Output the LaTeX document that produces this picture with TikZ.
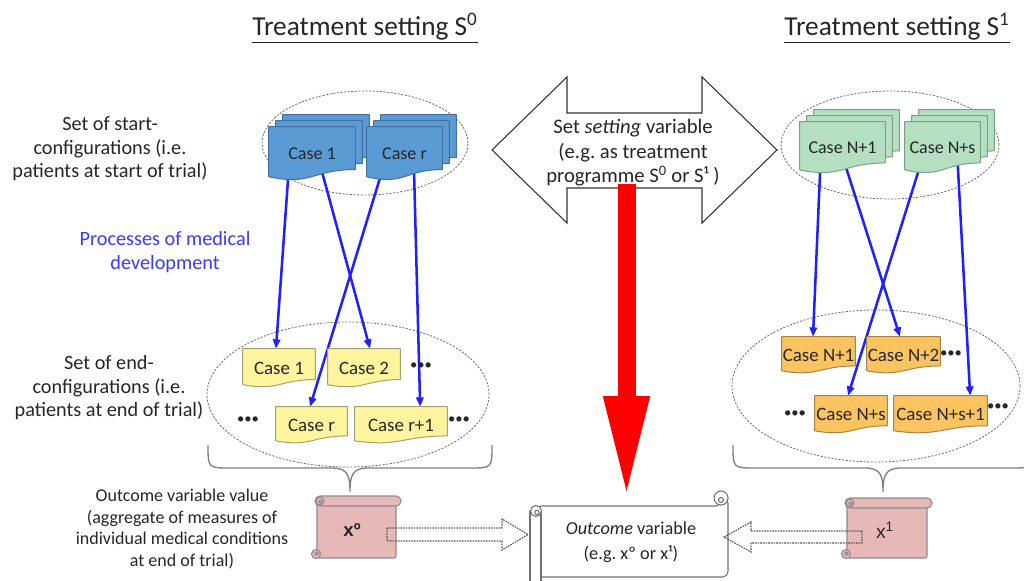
\documentclass[tikz,border=0pt]{standalone}
\usepackage{fontspec}
\setmainfont{Carlito}
\newfontfamily\arialfont{Liberation Sans}
\usetikzlibrary{calc,shapes.geometric,arrows.meta}
\frenchspacing

\pgfdeclarelayer{sets}
\pgfdeclarelayer{flows}
\pgfdeclarelayer{sheets}
\pgfsetlayers{sets,flows,sheets,main}

\definecolor{docblue}{HTML}{5B9BD5}
\definecolor{docblueedge}{HTML}{41719C}
\definecolor{docgreen}{HTML}{B5DFC1}
\definecolor{docgreenedge}{HTML}{7F9F88}
\definecolor{docyellow}{HTML}{FFF59E}
\definecolor{docyellowedge}{HTML}{A3A370}
\definecolor{docorange}{HTML}{FBC461}
\definecolor{docorangeedge}{HTML}{A88444}
\definecolor{scrollpink}{HTML}{E6B9B8}
\definecolor{scrolledge}{HTML}{8C8C8C}
\definecolor{flowblue}{HTML}{1F1FFF}
\definecolor{procblue}{HTML}{3A3AFF}
\definecolor{setgray}{HTML}{6E6E6E}
\definecolor{inkgray}{HTML}{262626}

\tikzset{
  setring/.style={ellipse, draw=setgray, dash pattern=on 1.6pt off 1.1pt, line width=0.6pt, inner sep=0pt},
  sheet/.style={rectangle, inner sep=0pt, font=\fontsize{13.5}{15}\selectfont, text=inkgray},
  endsheet/.style={sheet, font=\fontsize{14.2}{15}\selectfont},
  flow/.style={draw=flowblue, line width=1.9pt, -{Triangle[length=7pt,width=5.5pt]}},
  sidetext/.style={align=center, font=\fontsize{15.2}{17.6}\selectfont, text=inkgray},
  curlybrace/.style={draw=black!50, line width=1pt},
  hollowarrow/.style={draw=black!65, line width=0.9pt, dash pattern=on 1.2pt off 0.8pt},
  scrollline/.style={draw=scrolledge, line width=0.8pt},
  ellipsis/.style={font=\fontsize{11}{11}\selectfont, text=inkgray},
  heading/.style={font=\fontsize{20.5}{24}\selectfont, text=inkgray}
}

% document sheet with a wavy lower edge, fitted to a rectangular node
\newcommand\sheetshape[3]{%
  \filldraw[fill=#2, draw=#3, line width=0.75pt, line join=round]
    (#1.north west) -- (#1.north east)
    -- ($(#1.north east)!0.80!(#1.south east)$)
    .. controls ($(#1.north)!0.80!(#1.south)$) and ($(#1.north)!1.107!(#1.south)$)
    .. ($(#1.north west)!0.934!(#1.south west)$) -- cycle;}

% single sheet: name, x, y, width, height, fill, edge, text
\newcommand\sheet[8]{%
  \node[endsheet, minimum width={#4*0.75pt}, minimum height={#5*0.75pt}] (#1) at (#2,#3) {#8};
  \begin{pgfonlayer}{sheets}\sheetshape{#1}{#6}{#7}\end{pgfonlayer}}

% stack of three sheets
\newcommand\sheetstack[8]{%
  \node[sheet, minimum width={#4*0.75pt}, minimum height={#5*0.75pt}] (#1c) at ({#2+14},{#3-12}) {};
  \node[sheet, minimum width={#4*0.75pt}, minimum height={#5*0.75pt}] (#1b) at ({#2+7},{#3-6}) {};
  \node[sheet, minimum width={#4*0.75pt}, minimum height={#5*0.75pt}] (#1) at (#2,#3) {#8};
  \begin{pgfonlayer}{sheets}
    \sheetshape{#1c}{#6}{#7}\sheetshape{#1b}{#6}{#7}\sheetshape{#1}{#6}{#7}
  \end{pgfonlayer}}

% small paper scroll: x0, y0, x1, y1
\newcommand\pinkscroll[4]{%
  \filldraw[scrollline, fill=scrollpink, rounded corners=1.5pt] ({#1+6},{#2+6}) rectangle ({#3-5},{#4-2});
  \filldraw[scrollline, fill=scrollpink, rounded corners=3.7pt] ({#1+4},{#2}) rectangle ({#3},{#2+10});
  \filldraw[scrollline, fill=scrollpink] ({#1+9},{#2+5}) circle[radius=4];
  \draw[scrollline] ({#1+9.5},{#2+5.5}) circle[radius=1.6];
  \filldraw[scrollline, fill=scrollpink] ({#1+5},{#4-6}) circle[radius=4.5];
  \draw[scrollline] ({#1+5.5},{#4-6.5}) circle[radius=1.6];}

\begin{document}
\begin{tikzpicture}[x=0.75pt,y=-0.75pt]
\useasboundingbox (0,0) rectangle (1024,581);

% headings
\node[heading] (headA) at (365,28) {\underline{Treatment setting S\textsuperscript{0}}};
\node[heading] (headB) at (897,28) {\underline{Treatment setting S\textsuperscript{1}}};

% side descriptions
\node[sidetext] (startText) at (110,149) {Set of start-\\configurations (i.e.\\patients at start of trial)};
\node[sidetext, text=procblue, font=\fontsize{15.2}{17.4}\selectfont] (procText) at (165,252) {Processes of medical\\development};
\node[sidetext] (endText) at (109,388) {Set of end-\\configurations (i.e.\\patients at end of trial)};
\node[sidetext, font=\fontsize{13.5}{16.1}\selectfont] (valueText) at (182,529) {Outcome variable value\\(aggregate of measures of\\individual medical conditions\\at end of trial)};

% dashed sets
\begin{pgfonlayer}{sets}
\node[setring, minimum width=154.5pt, minimum height=78pt] (startA) at (365,143) {};
\node[setring, minimum width=163.5pt, minimum height=81pt] (startB) at (890,145) {};
\node[setring, minimum width=211.5pt, minimum height=108.75pt] (endA) at (348,394.5) {};
\node[setring, minimum width=216pt, minimum height=114pt] (endB) at (876,386) {};
\end{pgfonlayer}

% start configurations
\sheetstack{sA1}{312}{153.5}{86}{53}{docblue}{docblueedge}{Case 1}
\sheetstack{sAr}{404.5}{153.5}{75}{53}{docblue}{docblueedge}{Case r}
\sheetstack{sB1}{842.5}{147.5}{85}{51}{docgreen}{docgreenedge}{Case N+1}
\sheetstack{sBs}{942.5}{147.5}{75}{51}{docgreen}{docgreenedge}{Case N+s}

% end configurations
\sheet{eA1}{279}{368}{72}{38}{docyellow}{docyellowedge}{Case 1}
\sheet{eA2}{364}{368}{72}{38}{docyellow}{docyellowedge}{Case 2}
\sheet{eAr}{311.5}{425}{71}{36}{docyellow}{docyellowedge}{Case r}
\sheet{eAr1}{401}{425}{92}{36}{docyellow}{docyellowedge}{Case r+1}
\sheet{eB1}{818.5}{355}{73}{36}{docorange}{docorangeedge}{Case N+1}
\sheet{eB2}{903.5}{355}{73}{36}{docorange}{docorangeedge}{Case N+2}
\sheet{eBs}{851}{414.5}{72}{37}{docorange}{docorangeedge}{Case N+s}
\sheet{eBs1}{940.5}{414.5}{93}{37}{docorange}{docorangeedge}{Case N+s+1}

\node[ellipsis] (moreA1) at (421,366) {•••};
\node[ellipsis] (moreA2) at (248,420) {•••};
\node[ellipsis] (moreA3) at (459,420) {•••};
\node[ellipsis] (moreB1) at (951,354) {•••};
\node[ellipsis] (moreB2) at (795,414) {•••};
\node[ellipsis] (moreB3) at (998,407) {•••};

% processes of medical development
\begin{pgfonlayer}{flows}
\draw[flow] ($(sA1.west)!0.244!(sA1.east)$) -- ($(eA1.north west)!0.458!(eA1.north east)$);
\draw[flow] ($(sA1.west)!0.558!(sA1.east)$) -- ($(eA2.north west)!0.583!(eA2.north east)$);
\draw[flow] ($(sAr.west)!0.275!(sAr.east)$) -- ($(eAr.north west)!0.479!(eAr.north east)$);
\draw[flow] ($(sAr.west)!0.62!(sAr.east)$) -- ($(eAr1.north west)!0.707!(eAr1.north east)$);
\draw[flow] ($(sB1.west)!0.25!(sB1.east)$) -- ($(eB1.north west)!0.425!(eB1.north east)$);
\draw[flow] ($(sB1.west)!0.467!(sB1.east)$) -- ($(eB2.north west)!0.452!(eB2.north east)$);
\draw[flow] ($(sBs.west)!0.28!(sBs.east)$) -- ($(eBs.north west)!0.458!(eBs.north east)$);
\draw[flow] ($(sBs.west)!0.69!(sBs.east)$) -- ($(eBs1.north west)!0.817!(eBs1.north east)$);
\end{pgfonlayer}

% braces under the end configurations
\draw[curlybrace] (208,445) .. controls (208,468) .. (230,468) -- (332,468)
  .. controls (348,468) and (350,476) .. (350,492)
  .. controls (350,476) and (352,468) .. (368,468) -- (470,468)
  .. controls (492,468) .. (492,445);
\draw[curlybrace] (733,445) .. controls (733,468) .. (755,468) -- (865,468)
  .. controls (881,468) and (883,476) .. (883,492)
  .. controls (883,476) and (885,468) .. (901,468) -- (1011,468)
  .. controls (1033,468) .. (1033,445);

% setting variable double arrow
\filldraw[fill=white, draw=black!80, line width=0.8pt, line join=miter]
  (492,150) -- (567,77) -- (567,113) -- (702,113) -- (702,77) -- (777,150)
  -- (702,223) -- (702,188) -- (567,188) -- (567,223) -- cycle;
\node[sidetext, font=\fontsize{15.5}{18.4}\selectfont] (setting) at (633,153)
  {Set \textit{setting} variable\\(e.g. as treatment\\programme S\textsuperscript{0} or S¹ )};

% outcome scroll
\filldraw[draw=black!55, line width=0.8pt, fill=white, rounded corners=4pt]
  (536,506) -- (721,506) -- (721,498) -- (728,498) -- (728,577) -- (536,577) -- cycle;
\filldraw[draw=black!55, line width=0.8pt, fill=white] (721,498) circle[radius=7];
\draw[draw=black!55, line width=0.8pt] (721,500) circle[radius=2.5];
\filldraw[draw=black!55, line width=0.8pt, fill=white] (530,512) rectangle (541,590);
\filldraw[draw=black!55, line width=0.8pt, fill=white] (536,511) circle[radius=5.5];
\draw[draw=black!55, line width=0.8pt] (537,512.5) circle[radius=2.2];
\node[align=center, font=\fontsize{13.7}{18.7}\selectfont, text=inkgray] (outcome) at (631,542)
  {\textit{Outcome} variable\\(e.g. xº or x¹)};

% red arrow from the setting variable to the outcome
\coordinate (redTop) at (626.5,184);
\coordinate (redTip) at (626.5,500);
\draw[red, line width=13.5pt, -{Triangle[length=78pt,width=31pt]}] (redTop) -- (redTip);

% outcome values of the two settings
\pinkscroll{311}{496}{401}{560}
\pinkscroll{841}{498}{932}{560}
\node[font=\arialfont\bfseries\fontsize{14}{14}\selectfont, text=inkgray] (valueA) at (352,530) {xº};
\node[font=\arialfont\fontsize{14.5}{14.5}\selectfont, text=inkgray] (valueB) at (885,530) {x\textsuperscript{1}};

% hollow dotted arrows into the outcome scroll
\draw[hollowarrow] (387,528) -- (502,528) -- (502,519) -- (528,534.5) -- (502,550) -- (502,541) -- (387,541) -- cycle;
\draw[hollowarrow] (862,531) -- (751,531) -- (751,522) -- (724,537) -- (751,552) -- (751,543) -- (862,543) -- cycle;
\end{tikzpicture}
\end{document}
